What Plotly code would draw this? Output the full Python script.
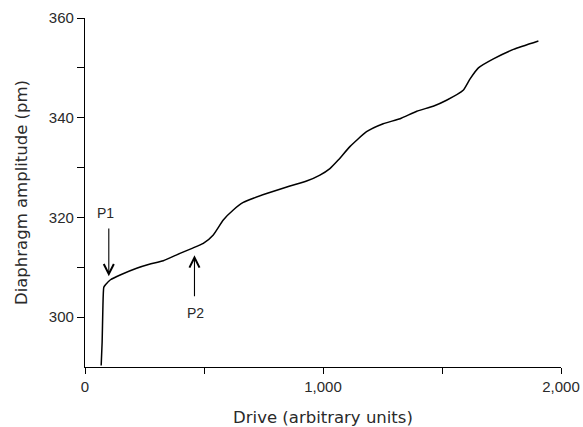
import plotly.graph_objects as go

# Data
drive = [68, 72, 75, 79, 86, 107, 150, 217, 270, 329, 399, 450, 497, 539, 581, 623,
         665, 710, 763, 861, 931, 987, 1029, 1064, 1113, 1183, 1253, 1324, 1394,
         1463, 1519, 1589, 1618, 1653, 1716, 1800, 1905]
amplitude = [290.3, 295, 301.6, 306, 306.5, 307.5, 308.5, 309.8, 310.6, 311.3, 312.8,
             313.8, 314.8, 316.5, 319.5, 321.5, 323.0, 323.9, 324.8, 326.3, 327.3,
             328.5, 329.8, 331.5, 334.2, 337.2, 338.8, 339.8, 341.3, 342.3, 343.5,
             345.5, 347.8, 350.0, 351.8, 353.7, 355.4]

x_ticks = [0, 1000, 2000]
x_labels = ["0", "1,000", "2,000"]
y_ticks = [300, 320, 340, 360]

FONT = "Liberation Sans, Arial, sans-serif"
TFONT = "DejaVu Sans, sans-serif"
TXT = "#2a2a2a"

fig = go.Figure()
fig.add_trace(go.Scatter(x=drive, y=amplitude, mode="lines",
                         line=dict(color="black", width=1.5, shape="spline",
                                   smoothing=0.5),
                         hoverinfo="skip", showlegend=False))

# P1 / P2 markers
fig.add_annotation(x=100, y=308.2, ax=100, ay=318.1, xref="x", yref="y",
                   axref="x", ayref="y", showarrow=True, arrowhead=5,
                   arrowsize=1.8, arrowwidth=1.1, arrowcolor="black", text="")
fig.add_annotation(x=88, y=320.9, text="P1", showarrow=False,
                   font=dict(family=FONT, size=14, color=TXT))
fig.add_annotation(x=460, y=312.4, ax=460, ay=303.9, xref="x", yref="y",
                   axref="x", ayref="y", showarrow=True, arrowhead=5,
                   arrowsize=1.8, arrowwidth=1.1, arrowcolor="black", text="")
fig.add_annotation(x=464, y=300.8, text="P2", showarrow=False,
                   font=dict(family=FONT, size=14, color=TXT))

fig.update_layout(
    width=583, height=427,
    margin=dict(l=84.5, r=22, t=17.7, b=60.3, autoexpand=False),
    paper_bgcolor="white", plot_bgcolor="white",
    font=dict(family=FONT, size=15, color=TXT),
    xaxis=dict(range=[0, 2000], tickvals=x_ticks, ticktext=x_labels,
               automargin=False,
               showgrid=False, zeroline=False, showline=True, linecolor="black",
               linewidth=1.3, ticks="outside", ticklen=6, tickwidth=1.2,
               tickcolor="black",
               minor=dict(tickvals=[500, 1500], ticks="outside", ticklen=6,
                          tickwidth=1.2, tickcolor="black", showgrid=False),
               title=dict(text="Drive (arbitrary units)",
                          font=dict(family=TFONT, size=16.5, color=TXT), standoff=18)),
    yaxis=dict(range=[290, 360], tickvals=y_ticks,
               automargin=False,
               showgrid=False, zeroline=False, showline=True, linecolor="black",
               linewidth=1.3, ticks="outside", ticklen=7, tickwidth=1.2,
               tickcolor="black",
               minor=dict(tickvals=[310, 330, 350], ticks="outside", ticklen=7,
                          tickwidth=1.2, tickcolor="black", showgrid=False),
               title=dict(text="Diaphragm amplitude (pm)",
                          font=dict(family=TFONT, size=16.5, color=TXT), standoff=17)),
)

fig.write_html("out.html")
